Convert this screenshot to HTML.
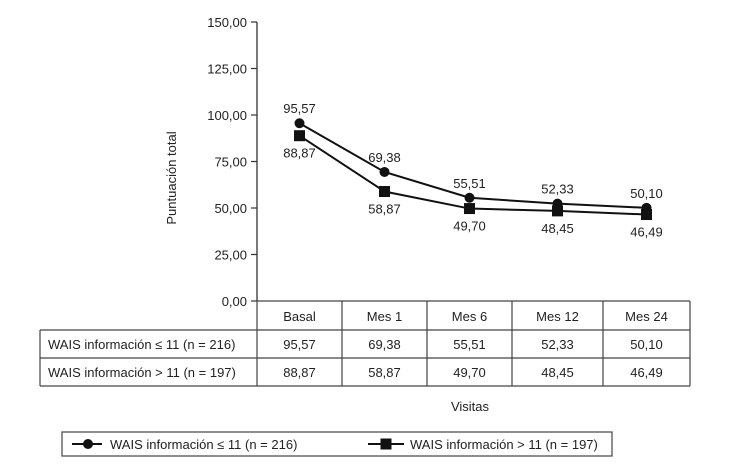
<!DOCTYPE html>
<html><head><meta charset="utf-8"><style>
body{margin:0;background:#fff}
svg text{font-family:"Liberation Sans",sans-serif;fill:#222}
</style></head><body>
<svg id="c" width="730" height="469" xmlns="http://www.w3.org/2000/svg"></svg>
<script>
const categories=["Basal","Mes 1","Mes 6","Mes 12","Mes 24"];
const series1=[95.57,69.38,55.51,52.33,50.10];
const series2=[88.87,58.87,49.70,48.45,46.49];
const yTicks=[0,25,50,75,100,125,150];
const name1="WAIS información ≤ 11 (n =  216)";
const name2="WAIS información > 11 (n = 197)";
const svg=document.getElementById('c');
const NS="http://www.w3.org/2000/svg";
function el(t,a,p){const e=document.createElementNS(NS,t);for(const k in a)e.setAttribute(k,a[k]);(p||svg).appendChild(e);return e;}
const y0=301,y1=22,ymax=150;
function Y(v){return y0-(v/ymax)*(y0-y1);}
const colEdges=[257,342,427,512,603,690];
function X(i){return (colEdges[i]+colEdges[i+1])/2;}
function fmt(v){return v.toFixed(2).replace('.',',');}
let a=el('line',{x1:257,y1:y1,x2:257,y2:y0,stroke:'#333','stroke-width':1.3});

yTicks.forEach(v=>{
 let t=el('line',{x1:251,y1:Y(v),x2:257,y2:Y(v),stroke:'#333','stroke-width':1.2});
 
 let l=el('text',{x:247,y:Y(v)+5,'text-anchor':'end','font-size':13});l.textContent=fmt(v);
 
});
let yt=el('text',{x:0,y:0,'text-anchor':'middle','font-size':13,transform:'translate(176,178) rotate(-90)'});yt.textContent="Puntuación total";

const tl=40,rows=[301,330,358,386];
rows.forEach((ry,i)=>{let l=el('line',{x1:i==0?257:tl,y1:ry,x2:690,y2:ry,stroke:'#444','stroke-width':1.2});});
colEdges.forEach(cx=>{let l=el('line',{x1:cx,y1:301,x2:cx,y2:386,stroke:'#444','stroke-width':1.2});});
let lb=el('line',{x1:tl,y1:330,x2:tl,y2:386,stroke:'#444','stroke-width':1.2});
categories.forEach((c,i)=>{
 let t=el('text',{x:X(i),y:321,'text-anchor':'middle','font-size':13});t.textContent=c;
 
 let a1=el('text',{x:X(i),y:349,'text-anchor':'middle','font-size':13});a1.textContent=fmt(series1[i]);
 
 let a2=el('text',{x:X(i),y:377,'text-anchor':'middle','font-size':13});a2.textContent=fmt(series2[i]);
 
});
let r1=el('text',{x:48,y:349,'font-size':13});r1.textContent=name1;
let r2=el('text',{x:48,y:377,'font-size':13});r2.textContent=name2;
let vx=el('text',{x:470,y:411,'text-anchor':'middle','font-size':13});vx.textContent="Visitas";
function pts(s){return s.map((v,i)=>X(i)+','+Y(v)).join(' ');}
let p1=el('polyline',{points:pts(series1),fill:'none',stroke:'#111','stroke-width':2});
let p2=el('polyline',{points:pts(series2),fill:'none',stroke:'#111','stroke-width':2});
series1.forEach((v,i)=>{
 let m=el('circle',{cx:X(i),cy:Y(v),r:5,fill:'#111'});
 let t=el('text',{x:X(i),y:Y(v)-10,'text-anchor':'middle','font-size':13});t.textContent=fmt(v);
});
series2.forEach((v,i)=>{
 let m=el('rect',{x:X(i)-5.5,y:Y(v)-5.5,width:11,height:11,fill:'#111'});
 let t=el('text',{x:X(i),y:Y(v)+22,'text-anchor':'middle','font-size':13});t.textContent=fmt(v);
});
let lg=el('rect',{x:62,y:432,width:550,height:24,fill:'none',stroke:'#444','stroke-width':1.2});
let g1=el('line',{x1:72,y1:444,x2:102,y2:444,stroke:'#111','stroke-width':2});
let g1m=el('circle',{cx:88,cy:444,r:5,fill:'#111'});
let g1t=el('text',{x:110,y:449,'font-size':13});g1t.textContent="WAIS información ≤ 11 (n = 216)";
let g2=el('line',{x1:368,y1:444,x2:404,y2:444,stroke:'#111','stroke-width':2});
let g2m=el('rect',{x:380.5,y:438.5,width:11,height:11,fill:'#111'});
let g2t=el('text',{x:410,y:449,'font-size':13});g2t.textContent="WAIS información > 11 (n = 197)";
</script>
</body></html>
